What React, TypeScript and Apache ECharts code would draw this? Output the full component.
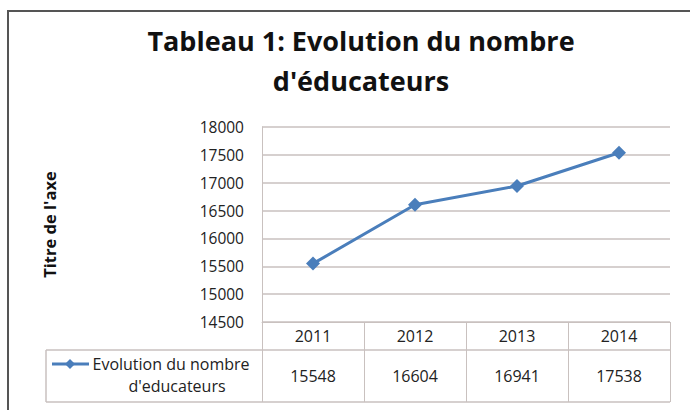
import React, { useEffect, useRef } from "react";
import * as echarts from "echarts";

const categories = ["2011", "2012", "2013", "2014"];
const seriesName = "Evolution du nombre d'educateurs";
const legendLines = ["Evolution du nombre", "d'educateurs"];
const values = [15548, 16604, 16941, 17538];
const yMin = 14500;
const yMax = 18000;
const yStep = 500;
const titleText = "Tableau 1: Evolution du nombre\nd'éducateurs";
const yAxisTitle = "Titre de l'axe";

const FONT = "'Open Sans', 'Noto Sans', sans-serif";
const GRID = "#C9C1BF";
const BLUE = "#4A7EBB";

export default function App() {
  const ref = useRef<HTMLDivElement>(null);
  useEffect(() => {
    if (!ref.current) return;
    const chart = echarts.init(ref.current, undefined, { renderer: "svg" });
    chart.setOption({
      animation: false,
      backgroundColor: "#ffffff",
      textStyle: { fontFamily: FONT },
      title: {
        text: titleText,
        left: 356,
        top: 15,
        textAlign: "center",
        textStyle: {
          fontFamily: FONT,
          fontSize: 27,
          fontWeight: "bold",
          color: "#111",
          lineHeight: 40,
        },
      },
      grid: { left: 262, right: 20, top: 127, bottom: 88, containLabel: false },
      xAxis: [
        {
          type: "category",
          data: categories,
          boundaryGap: true,
          position: "bottom",
          axisLine: { show: true, lineStyle: { color: GRID, width: 1 } },
          axisTick: { show: true, length: 80, alignWithLabel: false, lineStyle: { color: GRID, width: 1 } },
          axisLabel: { color: "#222", fontSize: 16, margin: 6, fontFamily: FONT },
          splitLine: { show: false },
        },
        {
          type: "category",
          data: values.map((v) => String(v)),
          boundaryGap: true,
          position: "bottom",
          offset: 40,
          axisLine: { show: false },
          axisTick: { show: false },
          axisLabel: { color: "#222", fontSize: 16, margin: 6, fontFamily: FONT },
          splitLine: { show: false },
        },
      ],
      yAxis: {
        type: "value",
        min: yMin,
        max: yMax,
        interval: yStep,
        name: yAxisTitle,
        nameLocation: "middle",
        nameRotate: 90,
        nameGap: 204,
        nameTextStyle: { fontFamily: FONT, fontSize: 16.5, fontWeight: "bold", color: "#111" },
        axisLine: { show: true, lineStyle: { color: GRID, width: 1 } },
        axisTick: { show: false },
        axisLabel: {
          color: "#222",
          fontSize: 15.5,
          margin: 18,
          fontFamily: FONT,
          formatter: (v: number) => String(v),
        },
        splitLine: { show: true, lineStyle: { color: GRID, width: 1.5 } },
      },
      series: [
        {
          name: seriesName,
          type: "line",
          data: values,
          xAxisIndex: 0,
          symbol: "diamond",
          symbolSize: 14,
          lineStyle: { color: BLUE, width: 3 },
          itemStyle: { color: BLUE },
        },
      ],
      graphic: [
        {
          type: "rect",
          shape: { x: 8, y: 11, width: 700, height: 420 },
          style: { fill: "none", stroke: "#555", lineWidth: 2 },
          silent: true,
        },
        { type: "line", shape: { x1: 46, y1: 350, x2: 670, y2: 350 }, style: { stroke: GRID, lineWidth: 1.5 } },
        { type: "line", shape: { x1: 46, y1: 402, x2: 670, y2: 402 }, style: { stroke: GRID, lineWidth: 1.5 } },
        { type: "line", shape: { x1: 46, y1: 350, x2: 46, y2: 402 }, style: { stroke: GRID, lineWidth: 1.5 } },
        { type: "line", shape: { x1: 52, y1: 364, x2: 89, y2: 364 }, style: { stroke: BLUE, lineWidth: 3 } },
        {
          type: "polygon",
          shape: { points: [[70, 359], [75, 364], [70, 369], [65, 364]] },
          style: { fill: BLUE },
        },
        {
          type: "text",
          x: 171,
          y: 364,
          style: {
            text: legendLines[0],
            fontFamily: FONT,
            fontSize: 16,
            fill: "#222",
            textAlign: "center",
            textVerticalAlign: "middle",
          },
        },
        {
          type: "text",
          x: 177,
          y: 386,
          style: {
            text: legendLines[1],
            fontFamily: FONT,
            fontSize: 16,
            fill: "#222",
            textAlign: "center",
            textVerticalAlign: "middle",
          },
        },
      ],
    });
    return () => chart.dispose();
  }, []);
  return (
    <div
      ref={ref}
      style={{ position: "absolute", left: 0, top: 0, width: 690, height: 410 }}
    />
  );
}
